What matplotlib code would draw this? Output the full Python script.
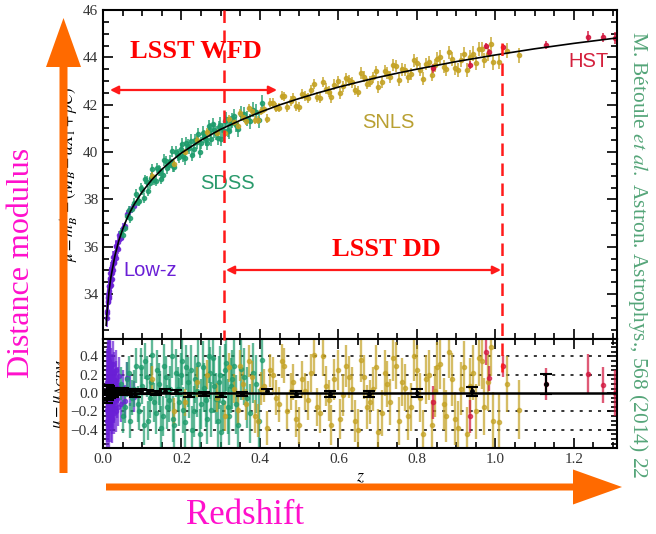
import numpy as np
import matplotlib.pyplot as plt
from matplotlib.patches import FancyArrow
from matplotlib.ticker import MultipleLocator

plt.rcParams['font.family'] = ['Liberation Serif', 'DejaVu Serif']
plt.rcParams['mathtext.fontset'] = 'stix'

# LCDM model curve
curve_z = [0.008, 0.010, 0.015, 0.020, 0.030, 0.040, 0.050, 0.060, 0.070, 0.080, 0.090, 0.100,
           0.125, 0.150, 0.175, 0.200, 0.250, 0.300, 0.350, 0.400, 0.450, 0.500, 0.550,
           0.600, 0.650, 0.700, 0.750, 0.800, 0.850, 0.900, 0.950, 1.000, 1.100, 1.200, 1.310]
curve_mu = [32.68, 33.17, 34.07, 34.70, 35.59, 36.24, 36.73, 37.15, 37.50, 37.80, 38.07, 38.32,
            38.84, 39.27, 39.63, 39.96, 40.50, 40.96, 41.34, 41.68, 41.99, 42.26, 42.51,
            42.74, 42.95, 43.15, 43.33, 43.50, 43.66, 43.82, 43.96, 44.10, 44.36, 44.59, 44.82]

# Low-z
z_lowz = [0.010, 0.011, 0.012, 0.013, 0.014, 0.015, 0.016, 0.017, 0.018, 0.019, 0.020, 0.021,
          0.022, 0.023, 0.024, 0.025, 0.026, 0.027, 0.028, 0.030, 0.032, 0.034, 0.036, 0.038,
          0.041, 0.045, 0.050, 0.055, 0.062, 0.070, 0.078,
          0.0105, 0.0125, 0.0135, 0.0145, 0.0155, 0.0165, 0.0175, 0.0185, 0.0195, 0.0215,
          0.0235, 0.0255, 0.029, 0.033, 0.037]
mu_lowz = [33.29, 33.20, 33.82, 33.69, 33.99, 33.84, 34.35, 34.35, 34.34, 34.88, 34.61, 34.85,
           34.62, 35.18, 35.10, 35.03, 35.37, 35.58, 35.34, 35.63, 35.53, 36.01, 35.94, 36.21,
           36.48, 36.38, 36.79, 36.86, 37.38, 37.53, 37.70,
           32.98, 33.86, 33.68, 34.33, 34.11, 33.92, 34.68, 34.62, 34.39, 35.07,
           34.87, 35.55, 35.29, 36.05, 35.91]
res_lowz = [0.12, -0.18, 0.25, -0.05, 0.08, -0.22, 0.15, 0.02, -0.12, 0.30, -0.08, 0.05,
            -0.28, 0.18, 0.00, -0.15, 0.10, 0.22, -0.10, 0.04, -0.20, 0.14, -0.06, 0.09,
            0.19, -0.12, 0.06, -0.09, 0.16, 0.03, -0.04,
            -0.30, 0.20, -0.15, 0.35, -0.02, -0.35, 0.28, 0.10, -0.25, 0.22,
            -0.18, 0.32, -0.22, 0.25, -0.15]
err_lowz = [0.36, 0.35, 0.34, 0.33, 0.32, 0.31, 0.30, 0.29, 0.28, 0.28, 0.27, 0.26,
            0.26, 0.25, 0.25, 0.24, 0.24, 0.23, 0.23, 0.22, 0.22, 0.21, 0.21, 0.20,
            0.20, 0.19, 0.19, 0.18, 0.18, 0.17, 0.17,
            0.36, 0.34, 0.33, 0.32, 0.31, 0.30, 0.29, 0.28, 0.28, 0.27,
            0.26, 0.25, 0.23, 0.22, 0.21]

# SDSS
z_sdss = [0.045, 0.055, 0.065, 0.075, 0.085, 0.092, 0.100, 0.108, 0.115, 0.122, 0.130, 0.138,
          0.145, 0.152, 0.160, 0.168, 0.175, 0.182, 0.190, 0.198, 0.205, 0.212, 0.220, 0.228,
          0.235, 0.242, 0.250, 0.258, 0.265, 0.272, 0.280, 0.288, 0.295, 0.302, 0.310, 0.318,
          0.325, 0.335, 0.345, 0.360, 0.375, 0.390, 0.405,
          0.050, 0.060, 0.070, 0.080, 0.088, 0.096, 0.104, 0.112, 0.119, 0.126, 0.134, 0.142,
          0.149, 0.156, 0.164, 0.172, 0.179, 0.186, 0.194, 0.202, 0.209, 0.216, 0.224, 0.232,
          0.239, 0.246, 0.254, 0.262, 0.269, 0.276, 0.284, 0.292, 0.299, 0.306, 0.314, 0.322,
          0.330, 0.340, 0.352, 0.368, 0.383, 0.398]
mu_sdss = [36.60, 36.80, 37.55, 37.60, 38.24, 37.92, 38.40, 38.84, 38.34, 38.90, 38.83, 39.32,
           39.21, 39.05, 39.60, 39.45, 40.03, 39.38, 39.88, 40.13, 39.84, 40.38, 40.17, 39.88,
           40.50, 40.74, 40.38, 40.64, 40.37, 40.93, 41.17, 40.80, 41.04, 40.56, 41.29, 40.95,
           41.24, 41.53, 40.96, 41.59, 41.29, 41.71, 42.07,
           36.48, 37.30, 37.20, 37.85, 37.90, 38.50, 38.06, 38.75, 38.67, 39.28, 38.78, 39.22,
           38.87, 39.66, 39.33, 39.64, 39.41, 40.00, 39.78, 40.33, 39.74, 40.26, 40.48, 40.12,
           40.41, 40.01, 40.82, 40.54, 41.08, 40.57, 40.91, 40.60, 41.16, 40.91, 41.40, 40.88,
           41.34, 41.15, 41.62, 41.41, 41.79, 41.37]
res_sdss = [0.10, -0.15, 0.22, -0.05, 0.30, -0.20, 0.08, 0.35, -0.30, 0.12, -0.10, 0.25,
            0.02, -0.25, 0.18, -0.08, 0.40, -0.35, 0.05, 0.20, -0.18, 0.28, -0.02, -0.40,
            0.15, 0.32, -0.12, 0.06, -0.28, 0.22, 0.38, -0.06, 0.12, -0.42, 0.25, -0.15,
            0.08, 0.30, -0.35, 0.18, -0.22, 0.10, 0.36,
            -0.25, 0.15, -0.30, 0.05, -0.12, 0.28, -0.35, 0.18, -0.05, 0.42, -0.22, 0.10,
            -0.38, 0.30, -0.15, 0.05, -0.28, 0.22, -0.10, 0.35, -0.32, 0.12, 0.25, -0.20,
            0.02, -0.45, 0.28, -0.08, 0.40, -0.18, 0.08, -0.30, 0.20, -0.10, 0.33, -0.25,
            0.15, -0.12, 0.26, -0.05, 0.22, -0.30]
err_sdss = [0.18, 0.18, 0.19, 0.19, 0.19, 0.20, 0.20, 0.20, 0.21, 0.21, 0.21, 0.22,
            0.22, 0.22, 0.23, 0.23, 0.23, 0.24, 0.24, 0.24, 0.25, 0.25, 0.25, 0.26,
            0.26, 0.26, 0.27, 0.27, 0.27, 0.28, 0.28, 0.28, 0.29, 0.29, 0.29, 0.30,
            0.30, 0.30, 0.31, 0.31, 0.32, 0.32, 0.33,
            0.18, 0.19, 0.19, 0.20, 0.20, 0.21, 0.21, 0.22, 0.22, 0.22, 0.23, 0.23,
            0.24, 0.24, 0.24, 0.25, 0.25, 0.26, 0.26, 0.26, 0.27, 0.27, 0.27, 0.28,
            0.28, 0.28, 0.29, 0.29, 0.29, 0.30, 0.30, 0.30, 0.31, 0.31, 0.31, 0.32,
            0.32, 0.32, 0.33, 0.33, 0.33, 0.34]

# SNLS
z_snls = [0.125, 0.210, 0.265, 0.310, 0.335, 0.350, 0.365, 0.380, 0.395, 0.410, 0.425, 0.440,
          0.455, 0.470, 0.485, 0.500, 0.515, 0.530, 0.545, 0.560, 0.575, 0.590, 0.605, 0.620,
          0.635, 0.650, 0.665, 0.680, 0.695, 0.710, 0.725, 0.740, 0.755, 0.770, 0.785, 0.800,
          0.815, 0.830, 0.845, 0.860, 0.875, 0.890, 0.905, 0.920, 0.935, 0.950, 0.965, 0.980,
          0.995, 1.030, 1.060,
          0.180, 0.240, 0.290, 0.320, 0.343, 0.358, 0.372, 0.388, 0.402, 0.418, 0.432, 0.448,
          0.462, 0.478, 0.492, 0.508, 0.522, 0.538, 0.552, 0.568, 0.582, 0.598, 0.612, 0.628,
          0.642, 0.658, 0.672, 0.688, 0.702, 0.718, 0.732, 0.748, 0.762, 0.778, 0.792, 0.808,
          0.822, 0.838, 0.852, 0.868, 0.882, 0.898, 0.912, 0.928, 0.942, 0.958, 0.972, 0.988,
          1.010]
mu_snls = [38.99, 39.98, 40.85, 40.79, 41.28, 41.64, 41.32, 41.73, 41.35, 41.82, 42.09, 41.88,
           42.37, 41.90, 42.30, 41.91, 42.36, 42.63, 42.34, 42.96, 42.55, 42.85, 42.48, 43.12,
           42.94, 42.55, 43.19, 42.97, 43.41, 42.97, 43.34, 43.67, 43.05, 43.46, 43.30, 43.75,
           43.10, 43.80, 43.66, 44.01, 43.49, 43.94, 43.45, 44.16, 44.00, 43.76, 44.35, 44.16,
           43.79, 44.28, 44.08,
           39.50, 40.52, 40.82, 41.40, 41.11, 41.50, 41.84, 41.35, 41.74, 41.41, 42.08, 41.86,
           42.36, 42.16, 41.94, 42.45, 42.29, 42.87, 42.30, 42.68, 42.31, 42.98, 42.77, 43.04,
           42.62, 43.34, 42.89, 43.15, 42.74, 43.43, 43.16, 43.62, 43.49, 43.18, 43.87, 43.48,
           43.72, 43.27, 43.95, 43.60, 44.21, 43.53, 43.90, 43.45, 44.16, 44.36, 43.87, 44.57,
           43.81]
res_snls = [0.15, -0.10, 0.20, -0.25, 0.05, 0.30, -0.12, 0.18, -0.30, 0.08, 0.25, -0.05,
            0.35, -0.20, 0.12, -0.35, 0.02, 0.22, -0.15, 0.40, -0.08, 0.15, -0.28, 0.30,
            0.05, -0.40, 0.18, -0.10, 0.28, -0.22, 0.10, 0.38, -0.30, 0.06, -0.15, 0.25,
            -0.45, 0.20, 0.02, 0.32, -0.25, 0.15, -0.38, 0.28, 0.08, -0.20, 0.35, 0.12,
            -0.30, 0.10, -0.18,
            -0.20, 0.12, -0.05, 0.28, -0.18, 0.10, 0.35, -0.25, 0.05, -0.38, 0.20, -0.12,
            0.30, 0.02, -0.28, 0.15, -0.08, 0.42, -0.22, 0.08, -0.35, 0.25, -0.02, 0.18,
            -0.30, 0.36, -0.15, 0.05, -0.42, 0.22, -0.10, 0.30, 0.12, -0.25, 0.40, -0.05,
            0.15, -0.35, 0.28, -0.12, 0.45, -0.28, 0.05, -0.45, 0.22, 0.38, -0.15, 0.50,
            -0.32]
err_snls = [0.15, 0.15, 0.16, 0.16, 0.16, 0.17, 0.17, 0.17, 0.18, 0.18, 0.18, 0.19,
            0.19, 0.19, 0.20, 0.20, 0.20, 0.21, 0.21, 0.21, 0.22, 0.22, 0.22, 0.23,
            0.23, 0.23, 0.24, 0.24, 0.24, 0.25, 0.25, 0.25, 0.26, 0.26, 0.26, 0.27,
            0.27, 0.27, 0.28, 0.28, 0.28, 0.29, 0.29, 0.29, 0.30, 0.30, 0.30, 0.31,
            0.31, 0.31, 0.32,
            0.15, 0.16, 0.16, 0.16, 0.17, 0.17, 0.17, 0.18, 0.18, 0.18, 0.19, 0.19,
            0.19, 0.20, 0.20, 0.20, 0.21, 0.21, 0.21, 0.22, 0.22, 0.22, 0.23, 0.23,
            0.23, 0.24, 0.24, 0.24, 0.25, 0.25, 0.25, 0.26, 0.26, 0.26, 0.27, 0.27,
            0.27, 0.28, 0.28, 0.28, 0.29, 0.29, 0.29, 0.30, 0.30, 0.30, 0.31, 0.31,
            0.31]

# HST
z_hst = [0.840, 0.935, 0.975, 0.985, 1.020, 1.130, 1.235, 1.275, 1.305]
mu_hst = [43.53, 43.67, 44.48, 44.22, 44.45, 44.53, 44.88, 44.84, 44.82]
res_hst = [-0.10, -0.25, 0.45, 0.16, 0.30, 0.10, 0.21, 0.09, 0.00]
err_hst = [0.18, 0.18, 0.14, 0.14, 0.12, 0.17, 0.22, 0.20, 0.25]

# binned residuals
z_bin = [0.010, 0.012, 0.014, 0.016, 0.019, 0.023, 0.026, 0.031, 0.037, 0.043, 0.051, 0.060,
         0.070, 0.082, 0.097, 0.114, 0.134, 0.158, 0.186, 0.218, 0.257, 0.302, 0.355, 0.418,
         0.491, 0.578, 0.679, 0.799, 0.940, 1.130]
res_bin = [-0.05, 0.04, -0.02, 0.03, -0.01, 0.02, 0.00, 0.03, 0.01, 0.02, 0.03, 0.01,
           0.02, -0.01, 0.02, 0.01, 0.00, 0.02, 0.01, -0.02, -0.01, -0.02, -0.01, 0.02,
           -0.01, -0.01, -0.01, 0.00, 0.02, 0.10]
err_bin = [0.06, 0.05, 0.05, 0.05, 0.04, 0.04, 0.04, 0.03, 0.03, 0.03, 0.03, 0.03,
           0.03, 0.03, 0.03, 0.02, 0.02, 0.02, 0.02, 0.02, 0.02, 0.02, 0.02, 0.03,
           0.03, 0.03, 0.03, 0.04, 0.05, 0.11]

samples = [
    ('Low-z', z_lowz, mu_lowz, res_lowz, err_lowz, '#6a1fd6'),
    ('SDSS', z_sdss, mu_sdss, res_sdss, err_sdss, '#1e9c6c'),
    ('SNLS', z_snls, mu_snls, res_snls, err_snls, '#c4a224'),
    ('HST', z_hst, mu_hst, res_hst, err_hst, '#d2143c'),
]

fig = plt.figure(figsize=(6.56, 5.34), dpi=100)
ax = fig.add_axes([103/656, 1-339/534, 514/656, 329/534])
axr = fig.add_axes([103/656, 1-448/534, 514/656, 109/534], sharex=ax)

for name, z, mu, res, err, c in samples:
    ax.errorbar(z, mu, yerr=err, fmt='o', ms=3, color=c,
                elinewidth=1.2, alpha=0.85, zorder=2)
    axr.errorbar(z, res, yerr=err, fmt='o', ms=3, color=c,
                 elinewidth=1.7, alpha=0.7, zorder=2)

ax.plot(curve_z, curve_mu, color='black', lw=1.2, zorder=5)

axr.errorbar(z_bin, res_bin, yerr=err_bin, fmt='o', ms=2.5, color='black',
             elinewidth=1.5, capsize=4, capthick=1.5, zorder=6)
axr.axhline(0, color='black', lw=1.8, zorder=5)
for yv in [-0.4, -0.2, 0.2, 0.4]:
    axr.axhline(yv, color='black', lw=1.1, ls=(0, (2, 4)), zorder=1)

ax.set_xlim(0, 1.31)
ax.set_ylim(32.1, 46)
axr.set_ylim(-0.598, 0.59)

ax.yaxis.set_major_locator(MultipleLocator(2))
ax.yaxis.set_minor_locator(MultipleLocator(0.5))
axr.xaxis.set_major_locator(MultipleLocator(0.2))
axr.xaxis.set_minor_locator(MultipleLocator(0.05))
axr.yaxis.set_major_locator(MultipleLocator(0.2))
axr.yaxis.set_minor_locator(MultipleLocator(0.05))

for a in (ax, axr):
    a.tick_params(which='both', direction='in', top=True, right=True,
                  labelsize=11, labelcolor='#333333', width=1.2)
    a.tick_params(which='major', length=7)
    a.tick_params(which='minor', length=4)
    for s in a.spines.values():
        s.set_linewidth(1.5)
ax.tick_params(labelbottom=False)

ax.set_ylabel(r'$\mu = m^{\star}_B - (M_B - \alpha X_1 + \beta C)$', fontsize=12, labelpad=2)
axr.set_ylabel(r'$\mu - \mu_{\Lambda CDM}$', fontsize=12, labelpad=2)
axr.set_xlabel(r'$z$', fontsize=13, labelpad=2)

ax.text(0.12, 35.0, 'Low-z', color='#6a1fd6', fontsize=14.5, family='Liberation Sans',
        ha='center', va='center')
ax.text(0.317, 38.68, 'SDSS', color='#2a9a6c', fontsize=14.5, family='Liberation Sans',
        ha='center', va='center')
ax.text(0.727, 41.26, 'SNLS', color='#b9a032', fontsize=14.5, family='Liberation Sans',
        ha='center', va='center')
ax.text(1.237, 43.84, 'HST', color='#d4203c', fontsize=14.5, family='Liberation Sans',
        ha='center', va='center')

# overlay in pixel coordinates for the annotations
ov = fig.add_axes([0, 0, 1, 1], zorder=10)
ov.set_xlim(0, 656)
ov.set_ylim(534, 0)
ov.axis('off')
ov.patch.set_alpha(0)

red = '#ff1a1a'
ov.plot([224, 224], [10, 340], color=red, lw=1.8, ls=(0, (5, 3)))
ov.plot([502, 502], [43, 372], color=red, lw=1.8, ls=(0, (5, 3)))
ov.annotate('', xy=(110, 90), xytext=(277, 90),
            arrowprops=dict(arrowstyle='<|-|>', color=red, lw=1.6, mutation_scale=12,
                            shrinkA=0, shrinkB=0))
ov.annotate('', xy=(226, 270), xytext=(501, 270),
            arrowprops=dict(arrowstyle='<|-|>', color=red, lw=1.6, mutation_scale=12,
                            shrinkA=0, shrinkB=0))
ov.text(196, 51, 'LSST WFD', color='#ff0000', fontsize=19, fontweight='bold',
        ha='center', va='center')
ov.text(386, 249, 'LSST DD', color='#ff0000', fontsize=19, fontweight='bold',
        ha='center', va='center')

orange = '#ff6a00'
ov.add_patch(FancyArrow(63.5, 473, 0, -455, width=8, head_width=35, head_length=49,
                        length_includes_head=True, color=orange, lw=0))
ov.add_patch(FancyArrow(106, 487, 516, 0, width=7, head_width=35, head_length=49,
                        length_includes_head=True, color=orange, lw=0))

magenta = '#ff10cc'
ov.text(22, 263, 'Distance modulus', color=magenta, fontsize=23, rotation=90,
        ha='center', va='center')
ov.text(245, 516, 'Redshift', color=magenta, fontsize=25, ha='center', va='center')

ov.text(638, 255, r'M. Bétoule $\mathit{et\ al.}$ Astron. Astrophys., 568 (2014) 22',
        color='#55a579', fontsize=15.4, rotation=270, ha='center', va='center')

fig.savefig('out.png', dpi=100)
